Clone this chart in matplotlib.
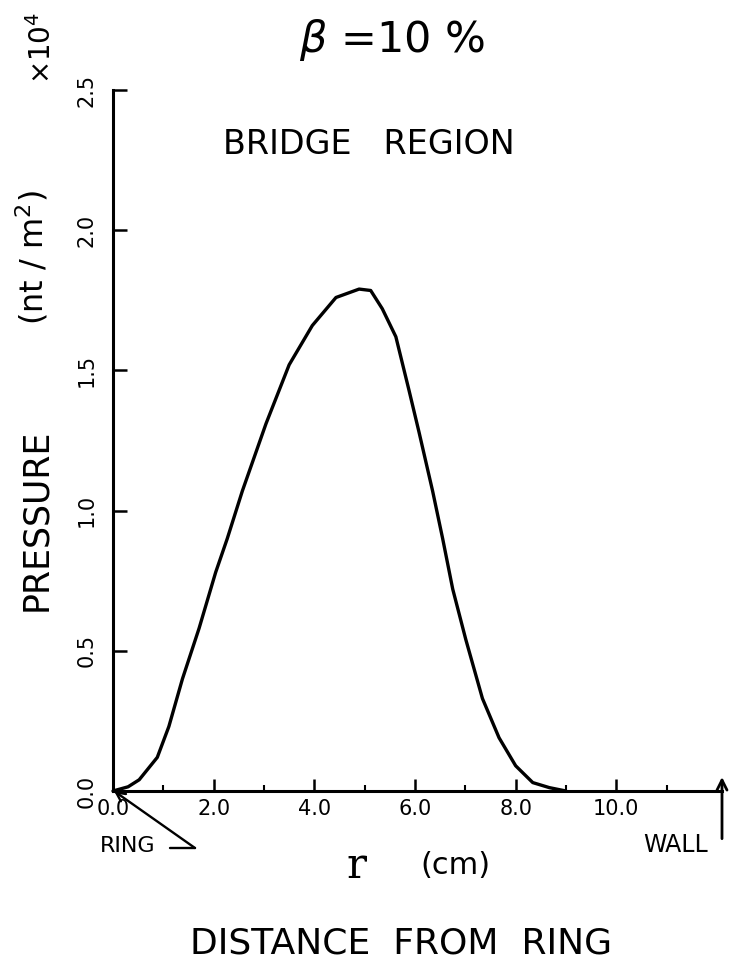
import matplotlib
matplotlib.use("Agg")
import matplotlib.pyplot as plt

# ---- data ----
r_cm = [0.0, 0.3, 0.52, 0.88, 1.11, 1.38, 1.71, 2.04, 2.27, 2.57, 3.04, 3.50,
        3.96, 4.43, 4.89, 5.12, 5.35, 5.62, 5.88, 6.08, 6.35, 6.55, 6.75, 7.01,
        7.34, 7.67, 8.00, 8.34, 8.67, 9.00]
pressure = [0.0, 0.015, 0.04, 0.12, 0.23, 0.40, 0.58, 0.78, 0.90, 1.07, 1.31, 1.52,
            1.66, 1.76, 1.79, 1.785, 1.72, 1.62, 1.43, 1.28, 1.07, 0.90, 0.72, 0.54,
            0.33, 0.19, 0.09, 0.03, 0.012, 0.0]
x_major = [0, 2, 4, 6, 8, 10]
x_major_labels = ["0.0", "2.0", "4.0", "6.0", "8.0", "10.0"]
x_minor = [1, 3, 5, 7, 9, 11]
y_ticks = [0.0, 0.5, 1.0, 1.5, 2.0, 2.5]
y_tick_labels = ["0.0", "0.5", "1.0", "1.5", "2.0", "2.5"]
wall_r = 12.1

W, H = 730, 967
fig = plt.figure(figsize=(W / 100, H / 100), dpi=100)
fig.patch.set_facecolor("white")

def fx(px):
    return px / W

def fy(py):
    return 1 - py / H

ax_left, ax_right, ax_top, ax_bottom = 113, 722, 90, 791
ax = fig.add_axes([fx(ax_left), fy(ax_bottom), (ax_right - ax_left) / W, (ax_bottom - ax_top) / H])
ax.set_xlim(0, wall_r)
ax.set_ylim(0, 2.5)
for s in ["top", "right"]:
    ax.spines[s].set_visible(False)
for s in ["left", "bottom"]:
    ax.spines[s].set_linewidth(2.2)
    ax.spines[s].set_color("black")

ax.plot(r_cm, pressure, color="black", lw=2.4, solid_capstyle="round",
        solid_joinstyle="round", clip_on=False)

ax.set_xticks(x_major)
ax.set_xticklabels(x_major_labels)
ax.set_xticks(x_minor, minor=True)
ax.set_yticks(y_ticks)
ax.set_yticklabels(y_tick_labels)
ax.tick_params(axis="x", which="major", direction="in", length=9, width=1.8, labelsize=15, pad=6)
ax.tick_params(axis="x", which="minor", direction="in", length=4, width=1.5)
ax.tick_params(axis="y", which="major", direction="in", length=10, width=1.8, labelsize=15, pad=12)
for lab in ax.get_yticklabels():
    lab.set_rotation(90)
    lab.set_va("center")

# title and annotations
fig.text(fx(392), fy(40), r"$\beta$ =10 %", fontsize=31, ha="center", va="center")
fig.text(fx(369), fy(145), "BRIDGE   REGION", fontsize=24, ha="center", va="center")
fig.text(fx(42), fy(48), r"$\times$10$^4$", fontsize=20, rotation=90, ha="center", va="center")
fig.text(fx(36), fy(520), "PRESSURE", fontsize=25, rotation=90, ha="center", va="center")
fig.text(fx(32), fy(258), r"(nt / m$^2$)", fontsize=23, rotation=90, ha="center", va="center")

fig.text(fx(128), fy(846), "RING", fontsize=16, ha="center", va="center")
ax.annotate("", xy=(0.02, 0.0), xycoords="data",
            xytext=(fx(195), fy(848)), textcoords="figure fraction",
            arrowprops=dict(arrowstyle="->", lw=1.7, color="black", mutation_scale=16,
                            shrinkA=0, shrinkB=0), annotation_clip=False)
ax.annotate("", xy=(fx(195), fy(848)), xycoords="figure fraction",
            xytext=(fx(170), fy(848)), textcoords="figure fraction",
            arrowprops=dict(arrowstyle="-", lw=1.7, color="black", shrinkA=0, shrinkB=0),
            annotation_clip=False)

fig.text(fx(676), fy(845), "WALL", fontsize=17, ha="center", va="center")
ax.annotate("", xy=(wall_r, 0.05), xycoords="data",
            xytext=(wall_r, -0.17), textcoords="data",
            arrowprops=dict(arrowstyle="->", lw=2.0, color="black", mutation_scale=18,
                            shrinkA=0, shrinkB=0), annotation_clip=False)

fig.text(fx(356), fy(866), "r", fontsize=30, family="serif", ha="center", va="center")
fig.text(fx(455), fy(866), "(cm)", fontsize=22, ha="center", va="center")
fig.text(fx(401), fy(944), "DISTANCE  FROM  RING", fontsize=26, ha="center", va="center")

fig.savefig("out.png", dpi=100, facecolor="white")
